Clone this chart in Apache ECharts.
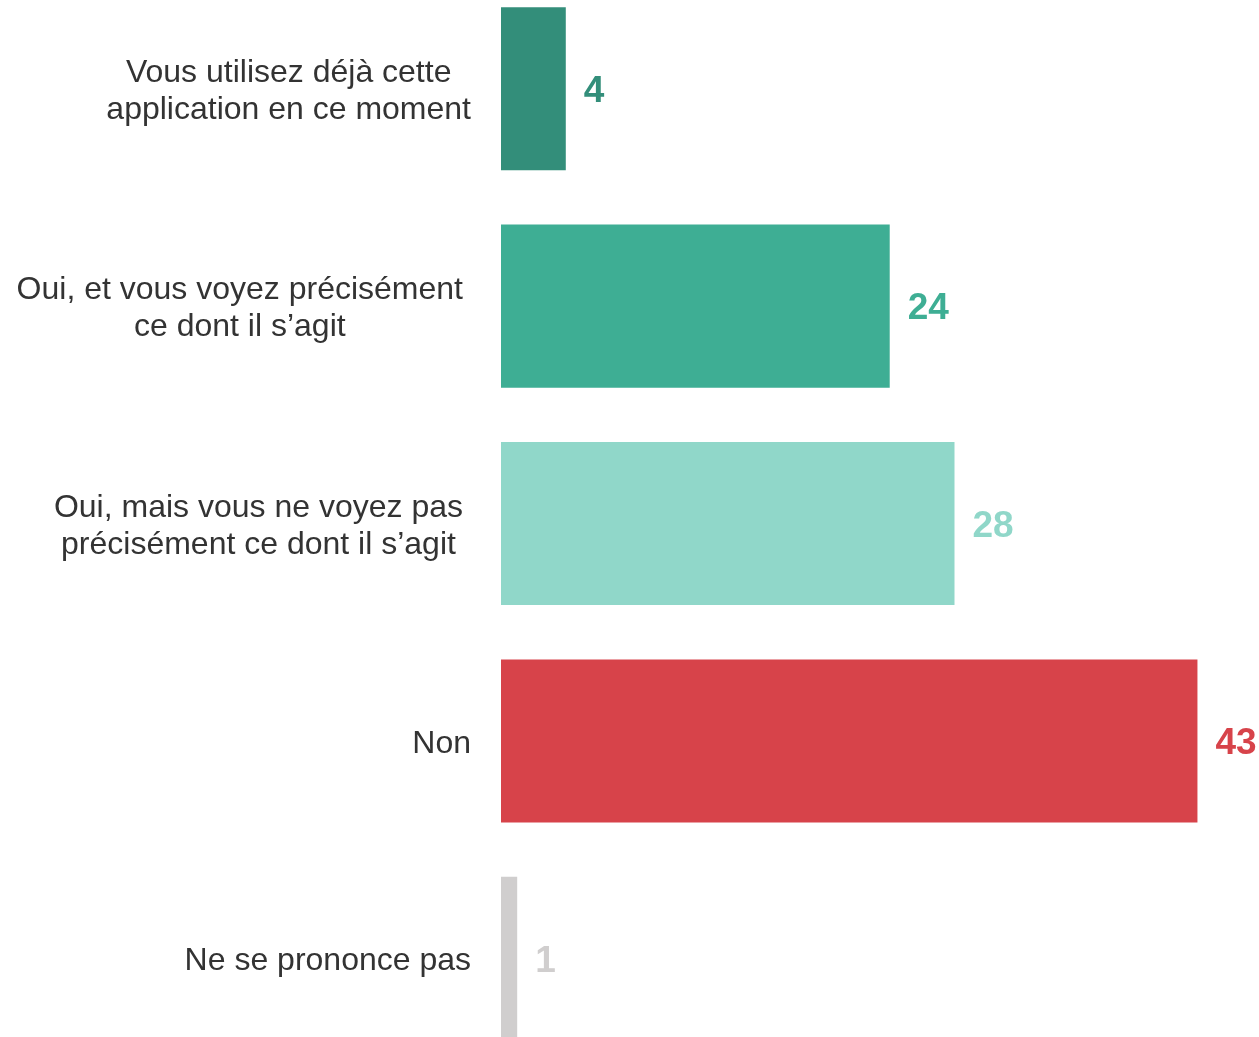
<!DOCTYPE html>
<html>
<head>
<meta charset="utf-8">
<script src="https://cdn.jsdelivr.net/npm/echarts@6/dist/echarts.min.js"></script>
<style>
  html, body { margin: 0; padding: 0; background: #ffffff; overflow: hidden; }
  /* taller than the window: the last bar runs off the bottom in the original */
  #chart { position: absolute; left: 0; top: -20px; width: 1259px; height: 1087px; }
</style>
</head>
<body>
<div id="chart"></div>
<script>
// categories top to bottom
const categories = [
  "Vous utilisez déjà cette\napplication en ce moment",
  "Oui, et vous voyez précisément\nce dont il s’agit",
  "Oui, mais vous ne voyez pas\nprécisément ce dont il s’agit",
  "Non",
  "Ne se prononce pas",
];
const values = [4, 24, 28, 43, 1];
const colors = ["#338E7A", "#3EAE94", "#90D7C9", "#D7434A", "#D0CECE"];

const chart = echarts.init(document.getElementById("chart"), null, { renderer: "canvas" });

// reversed so the first category ends up at the top
const cats = categories.slice().reverse();
const vals = values.slice().reverse();
const cols = colors.slice().reverse();

// wrap each line in a centered rich token so multi-line labels are centered
const toRich = (s) => s.split("\n").map((l) => `{c|${l}}`).join("\n");

const font = "Liberation Sans, Arial, sans-serif";

chart.setOption({
  animation: false,
  backgroundColor: "#ffffff",
  grid: { left: 501, right: 0, top: 0, bottom: 0 },
  xAxis: {
    type: "value",
    min: 0,
    max: 46.8,
    show: false,
  },
  yAxis: {
    type: "category",
    data: cats.map((c, i) => ({
      value: c,
      textStyle: { padding: [6, (i === 2 || i === 3) ? 8 : 0, 0, 0] },
    })),
    axisLine: { show: false },
    axisTick: { show: false },
    axisLabel: {
      margin: 30,
      align: "right",
      color: "#333333",
      fontFamily: font,
      fontSize: 32,
      lineHeight: 37,
      formatter: (v) => toRich(v),
      rich: {
        c: { align: "center", color: "#333333", fontFamily: font, fontSize: 32, lineHeight: 37 },
      },
    },
    splitLine: { show: false },
  },
  series: [
    {
      type: "bar",
      barCategoryGap: "25%",
      data: vals.map((v, i) => ({
        value: v,
        itemStyle: { color: cols[i] },
        label: { color: cols[i] },
      })),
      label: {
        show: true,
        position: "right",
        distance: 18,
        offset: [0, 3],
        fontFamily: font,
        fontWeight: "bold",
        fontSize: 37,
      },
    },
  ],
});
</script>
</body>
</html>
